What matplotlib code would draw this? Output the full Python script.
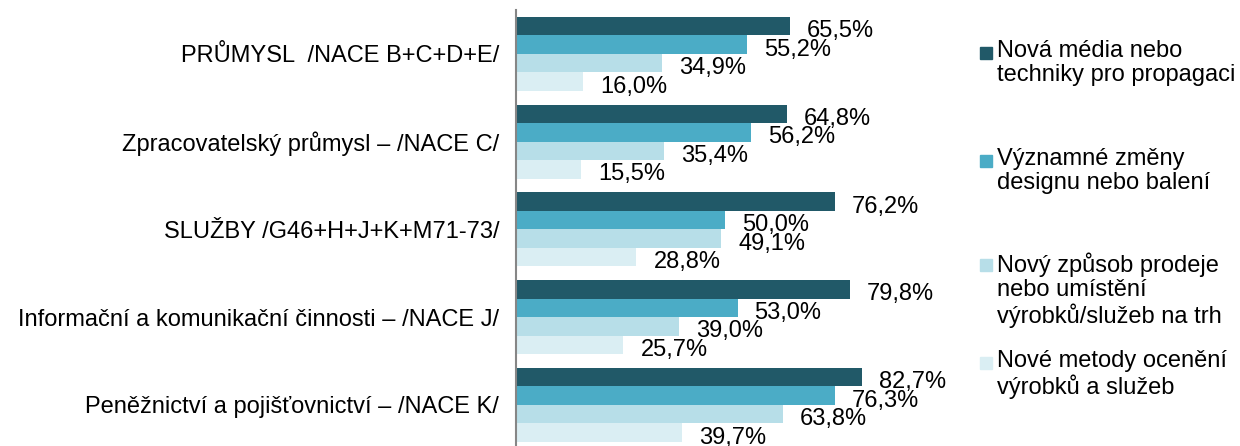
import matplotlib.pyplot as plt
from matplotlib.patches import Rectangle

plt.rcParams['font.family'] = ['Liberation Sans', 'DejaVu Sans']

categories = [
    "PRŮMYSL  /NACE B+C+D+E/",
    "Zpracovatelský průmysl – /NACE C/",
    "SLUŽBY /G46+H+J+K+M71-73/",
    "Informační a komunikační činnosti – /NACE J/",
    "Peněžnictví a pojišťovnictví – /NACE K/",
]
series_names = [
    "Nová média nebo\ntechniky pro propagaci",
    "Významné změny\ndesignu nebo balení",
    "Nový způsob prodeje\nnebo umístění\nvýrobků/služeb na trh",
    "Nové metody ocenění\nvýrobků a služeb",
]
media = [65.5, 64.8, 76.2, 79.8, 82.7]
design = [55.2, 56.2, 50.0, 53.0, 76.3]
prodej = [34.9, 35.4, 49.1, 39.0, 63.8]
ceny = [16.0, 15.5, 28.8, 25.7, 39.7]
colors = ["#215968", "#4BACC6", "#B7DEE8", "#DAEEF3"]

W, H = 1240, 446
fig = plt.figure(figsize=(W / 100, H / 100), dpi=100)
# axes in pixel coordinates: left 516, top 10, bottom 446
ax = fig.add_axes([516 / W, 0, 418 / W, 1 - 10 / H])

h = 0.211
fs = 17
for k, vals in enumerate([media, design, prodej, ceny]):
    ys = [i - 1.5 * h + k * h for i in range(len(categories))]
    ax.barh(ys, vals, height=h, color=colors[k], linewidth=0)
    for y, v in zip(ys, vals):
        ax.annotate(f"{v:.1f}%".replace(".", ","), (v, y), xytext=(17, -5),
                    textcoords="offset pixels", ha="left", va="center",
                    fontsize=fs, color="#000000")

ax.set_xlim(0, 100)
ax.set_ylim(4.47, -0.5)
ax.set_yticks(range(len(categories)))
ax.set_yticklabels(categories, fontsize=fs)
ax.tick_params(axis="y", length=0, pad=12)
ax.set_xticks([])
for s in ["top", "right", "bottom"]:
    ax.spines[s].set_visible(False)
ax.spines["left"].set_color("#868686")
ax.spines["left"].set_linewidth(1.5)

# legend drawn by hand
leg_y = [47, 155, 259, 357]
for k, (name, yy) in enumerate(zip(series_names, leg_y)):
    fig.patches.append(Rectangle((980 / W, 1 - (yy + 12) / H), 12 / W, 12 / H,
                                 transform=fig.transFigure, color=colors[k]))
    fig.text(997 / W, 1 - (yy - 7) / H, name, fontsize=fs, va="top", ha="left",
             linespacing=1.12)

fig.savefig("out.png", dpi=100)
